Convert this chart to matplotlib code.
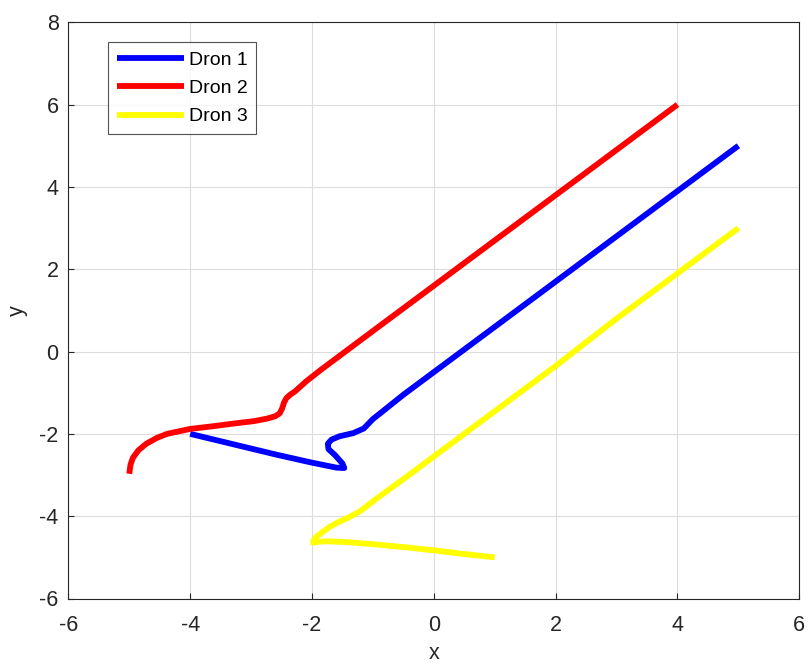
import matplotlib
matplotlib.use('Agg')
import matplotlib.pyplot as plt

plt.rcParams['font.family'] = ['Liberation Sans', 'DejaVu Sans']
plt.rcParams['axes.unicode_minus'] = False

# trayectorias
dron1_x = [-4.0, -3.3, -2.6, -2.0, -1.6, -1.47, -1.5, -1.62, -1.73, -1.74, -1.68, -1.55, -1.32, -1.15, -1.0, -0.88, -0.5, 0.0, 1.0, 2.0, 3.0, 4.0, 5.0]
dron1_y = [-2.0, -2.25, -2.5, -2.7, -2.82, -2.83, -2.72, -2.52, -2.37, -2.24, -2.14, -2.06, -1.98, -1.87, -1.64, -1.5, -1.05, -0.5, 0.6, 1.7, 2.8, 3.9, 5.0]

dron2_x = [-5.0, -4.98, -4.94, -4.85, -4.72, -4.55, -4.38, -4.0, -3.6, -3.29, -2.95, -2.74, -2.6, -2.53, -2.49, -2.46, -2.42, -2.36, -2.28, -2.1, -1.86, -1.0, 0.0, 1.0, 2.0, 3.0, 4.0]
dron2_y = [-2.97, -2.75, -2.58, -2.4, -2.24, -2.1, -2.0, -1.88, -1.81, -1.75, -1.69, -1.63, -1.57, -1.5, -1.38, -1.24, -1.13, -1.05, -0.97, -0.73, -0.45, 0.5, 1.6, 2.7, 3.8, 4.9, 6.0]

dron3_x = [1.0, 0.5, 0.0, -0.5, -1.0, -1.43, -1.75, -1.9, -1.98, -1.98, -1.93, -1.84, -1.72, -1.59, -1.4, -1.21, -0.93, -0.5, 0.0, 1.0, 2.0, 3.0, 4.0, 5.0]
dron3_y = [-5.0, -4.92, -4.83, -4.75, -4.68, -4.63, -4.61, -4.62, -4.65, -4.6, -4.5, -4.4, -4.27, -4.16, -4.03, -3.88, -3.56, -3.1, -2.55, -1.45, -0.35, 0.8, 1.9, 3.0]

fig = plt.figure(figsize=(8.09, 6.65), dpi=100)
ax = fig.add_axes([0.0845, 0.1, 0.9035, 0.8665])

for xs, ys, c, lab in [(dron1_x, dron1_y, 'blue', 'Dron 1'),
                       (dron2_x, dron2_y, 'red', 'Dron 2'),
                       (dron3_x, dron3_y, 'yellow', 'Dron 3')]:
    ax.plot(xs, ys, color=c, lw=4.2, label=lab, solid_capstyle='butt', solid_joinstyle='round')

ax.set_xlim(-6, 6)
ax.set_ylim(-6, 8)
ax.set_xticks(range(-6, 7, 2))
ax.set_yticks(range(-6, 9, 2))
ax.grid(True, color='#dcdcdc', lw=0.8)
ax.set_axisbelow(True)
for s in ax.spines.values():
    s.set_color('#262626')
    s.set_linewidth(0.8)
ax.tick_params(direction='in', length=4, labelsize=15.5, colors='#262626')
ax.tick_params(axis='x', pad=12)
ax.tick_params(axis='y', pad=7)
ax.set_xlabel('x', fontsize=15.5, color='#262626', labelpad=5)
ax.set_ylabel('y', fontsize=15.5, color='#262626', labelpad=8)

leg = ax.legend(loc='upper left', bbox_to_anchor=(0.054, 0.965), fontsize=14,
                frameon=True, fancybox=False, edgecolor='#262626', handlelength=3.45,
                handletextpad=0.25, borderpad=0.45, labelspacing=0.55, borderaxespad=0)
leg.get_frame().set_linewidth(0.8)

plt.savefig('out.png', dpi=100)
plt.close(fig)
